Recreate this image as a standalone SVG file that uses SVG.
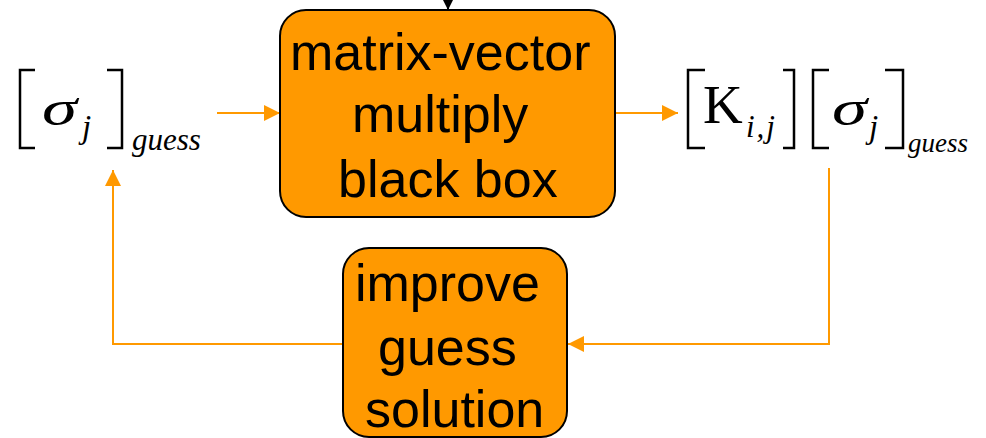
<svg xmlns="http://www.w3.org/2000/svg" width="986" height="438" viewBox="0 0 986 438">
<defs>
<style>
.box{fill:#FF9900;stroke:#000;stroke-width:2}
.lbl{font-family:"Liberation Sans",Arial,sans-serif;font-size:52px;fill:#000}
.conn{fill:none;stroke:#FF9900;stroke-width:2}
.br{fill:none;stroke:#000;stroke-width:2.5}
.m{font-family:"Liberation Serif","Times New Roman",serif;fill:#000}
.it{font-style:italic}
</style>
<marker id="ah" markerUnits="userSpaceOnUse" markerWidth="16" markerHeight="16" viewBox="0 0 15 15" refX="15" refY="7.5" orient="auto">
<path d="M0,0 L15,7.5 L0,15 z" fill="#FF9900"/>
</marker>
<marker id="ahk" markerUnits="userSpaceOnUse" markerWidth="10" markerHeight="10" viewBox="0 0 10 10" refX="10" refY="5" orient="auto">
<path d="M0,0 L10,5 L0,10 z" fill="#000"/>
</marker>
</defs>
<rect width="986" height="438" fill="#fff"/>
<g id="connectors">
<line x1="448" y1="-5" x2="448" y2="10" stroke="#000" stroke-width="2" marker-end="url(#ahk)"/>
<line class="conn" x1="217" y1="113" x2="280" y2="113" marker-end="url(#ah)"/>
<line class="conn" x1="615" y1="113" x2="678" y2="113" marker-end="url(#ah)"/>
<polyline class="conn" points="829,168 829,344 568,344" marker-end="url(#ah)"/>
<polyline class="conn" points="343,344 113,344 113,170" marker-end="url(#ah)"/>
</g>
<g id="sigma-guess">
<path class="br" d="M35,70 H20 V148 H35"/>
<path class="br" d="M107,70 H122 V148 H107"/>
<text class="m it" x="42" y="125" font-size="50" textLength="35" lengthAdjust="spacingAndGlyphs">σ</text>
<text class="m it" x="82" y="138" font-size="33">j</text>
<text class="m it" x="132" y="150" font-size="31">guess</text>
</g>
<g id="matvec">
<rect class="box" x="280" y="10" width="335" height="207" rx="26"/>
<text class="lbl" x="290" y="70">matrix-vector</text>
<text class="lbl" x="352" y="132">multiply</text>
<text class="lbl" x="338" y="197">black box</text>
</g>
<g id="result">
<path class="br" d="M705,70 H688 V148 H705"/>
<path class="br" d="M783,70 H794 V148 H783"/>
<text class="m" x="703" y="123" font-size="55">K</text>
<text class="m it" x="746" y="137" font-size="31" letter-spacing="2">i,j</text>
<path class="br" d="M829,70 H813 V148 H829"/>
<path class="br" d="M885,70 H903 V148 H885"/>
<text class="m it" x="832" y="125" font-size="50" textLength="35" lengthAdjust="spacingAndGlyphs">σ</text>
<text class="m it" x="869" y="138" font-size="33">j</text>
<text class="m it" x="908" y="152" font-size="27">guess</text>
</g>
<g id="improve">
<rect class="box" x="343" y="248" width="224" height="189" rx="26"/>
<text class="lbl" x="355" y="301">improve</text>
<text class="lbl" x="378" y="365">guess</text>
<text class="lbl" x="365" y="427">solution</text>
</g>
</svg>
